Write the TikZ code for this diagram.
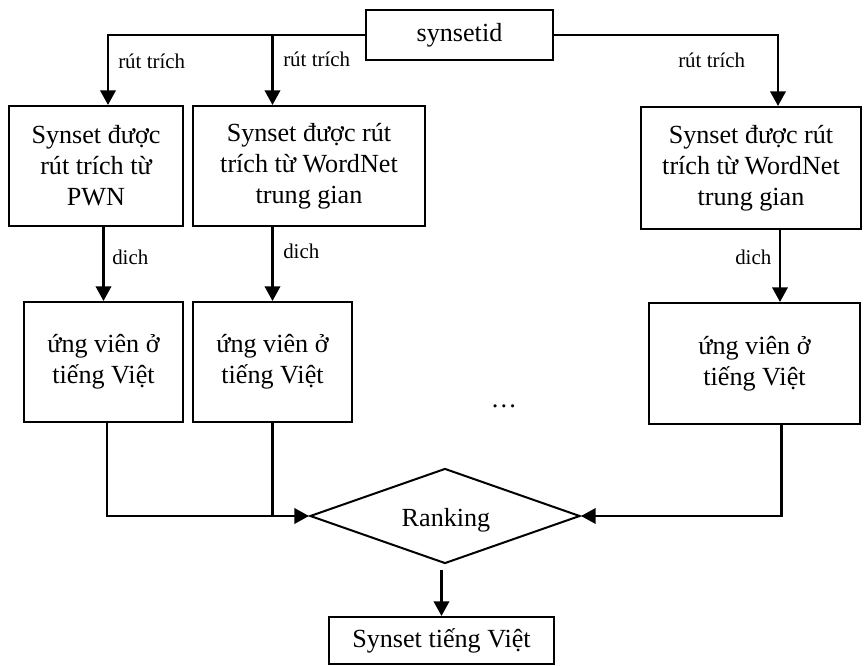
\documentclass[tikz,border=0pt]{standalone}
\usepackage{fontspec}
\setmainfont{Liberation Serif}
\usetikzlibrary{arrows.meta,shapes.geometric,calc}
\newdimen\pxu
\pxu=0.75pt
\begin{document}
\begin{tikzpicture}[x=0.75pt,y=-0.75pt,
  box/.style={draw,line width=1.5pt,align=center,inner sep=0pt,
    font=\fontsize{19.6}{23.25}\selectfont},
  lbl/.style={font=\fontsize{15.7}{18}\selectfont,inner sep=0pt,anchor=west},
  conn/.style={line width=2pt},
  arr/.style={conn,-{Triangle[width=11.5pt,length=11pt]}}]
\useasboundingbox (0,0) rectangle (865,666);

% source
\node[box,minimum width=187\pxu,minimum height=50\pxu] (sid) at (459.5,35) {synsetid};

% extracted synsets
\node[box,minimum width=174\pxu,minimum height=120\pxu] (b1) at (96,166)
  {Synset được\\rút trích từ\\PWN};
\node[box,minimum width=232\pxu,minimum height=120\pxu] (b2) at (309,166)
  {Synset được rút\\trích từ WordNet\\trung gian};
\node[box,minimum width=220\pxu,minimum height=122\pxu] (b3) at (751,168)
  {Synset được rút\\trích từ WordNet\\trung gian};

% Vietnamese candidates
\node[box,minimum width=159\pxu,minimum height=120\pxu] (c1) at (103.5,362)
  {ứng viên ở\\tiếng Việt};
\node[box,minimum width=159\pxu,minimum height=120\pxu] (c2) at (272.5,362)
  {ứng viên ở\\tiếng Việt};
\node[box,minimum width=211\pxu,minimum height=121\pxu] (c3) at (754.5,363.5)
  {ứng viên ở\\tiếng Việt};

\node[font=\fontsize{19.6}{20}\selectfont] (dots) at (504,406) {…};

% ranking and result
\node[diamond,draw,line width=1.5pt,aspect=2.85,inner sep=0pt,
  minimum width=270\pxu,minimum height=95\pxu] (rk) at (445,516) {};
\node[font=\fontsize{19.6}{20}\selectfont,inner sep=0pt,text depth=0pt,anchor=base]
  (rktxt) at (446,527) {Ranking};
\node[box,minimum width=225\pxu,minimum height=47\pxu] (out) at (441.5,640.5)
  {Synset tiếng Việt};

% column points
\coordinate (t1) at ($(b1.north)+(12,0)$);
\coordinate (t3) at ($(b3.north)+(27,0)$);
\coordinate (m3) at ($(c3.north)+(25.5,0)$);
\coordinate (s1) at ($(c1.south)+(3.5,0)$);
\coordinate (s3) at ($(c3.south)+(27,0)$);

% extraction
\draw[arr] (sid.west) -| (t1);
\draw[arr] (sid.west -| c2.north) -- (b2.north -| c2.north);
\draw[arr] (sid.east) -| (t3);

% translation
\draw[arr] (b1.south -| c1.north) -- (c1.north);
\draw[arr] (b2.south -| c2.north) -- (c2.north);
\draw[arr] (b3.south -| m3) -- (m3);

% into ranking
\draw[arr] (s1) |- (rk.west);
\draw[conn] (c2.south) -- (c2.south |- rk.west);
\draw[arr] (s3) |- (rk.east);
\draw[arr,shorten <=4pt] (rk.south -| out.north) -- (out.north);

% edge labels
\node[lbl] (l1) at (118,61) {rút trích};
\node[lbl] (l2) at (283,59) {rút trích};
\node[lbl] (l3) at (678,60) {rút trích};
\node[lbl] (d1) at (112,257) {dich};
\node[lbl] (d2) at (283,251) {dich};
\node[lbl] (d3) at (735,257) {dich};
\end{tikzpicture}
\end{document}
